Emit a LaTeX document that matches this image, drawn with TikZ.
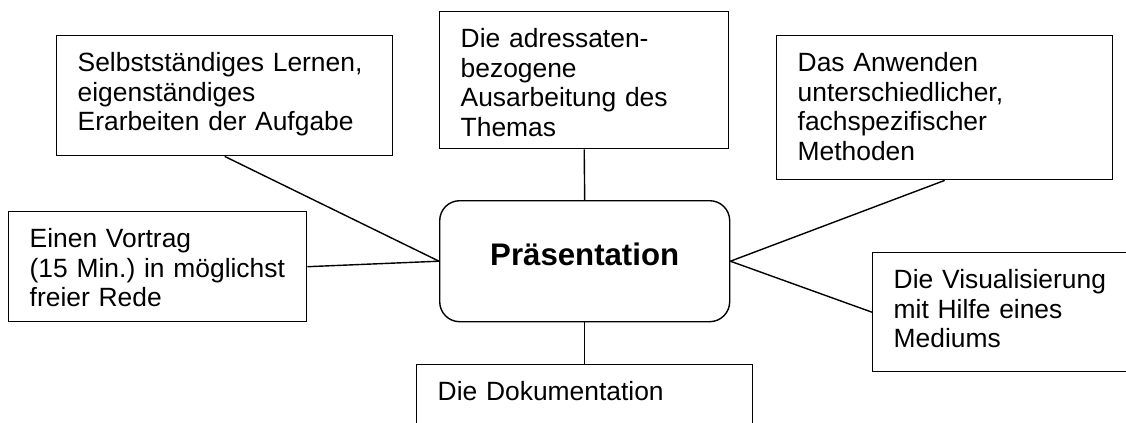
\documentclass[tikz,border=0pt]{standalone}
\usepackage{fontspec}
\setmainfont{Liberation Sans}
\frenchspacing

\tikzset{
  feld/.style={draw, rectangle, anchor=north west, align=left, inner xsep=10.5pt, inner ysep=0pt, text height=18pt, line width=0.7pt, font=\fontsize{13.2}{14.8}\selectfont},
  mitte/.style={draw, rectangle, rounded corners=10pt, anchor=north west, align=center, inner xsep=10.5pt, inner ysep=0pt, text width=124pt, text height=32.5pt, text depth=28pt, line width=0.7pt, font=\fontsize{15.6}{18}\selectfont\bfseries},
  linie/.style={line width=0.7pt}
}

\begin{document}
\begin{tikzpicture}[x=0.5pt, y=-0.5pt]
\useasboundingbox (0,0) rectangle (1126,423);

\node[mitte] (praes) at (439,200) {Präsentation\hspace*{4pt}};

\node[feld, text width=147pt, text depth=42pt] (selbst) at (56,35) {Selbstständiges Lernen,\\eigenständiges\\Erarbeiten der Aufgabe};
\node[feld, text width=123.5pt, text depth=50.5pt] (thema) at (439,11) {Die adressaten-\\bezogene\\Ausarbeitung des\\Themas};
\node[feld, text width=147pt, text depth=54pt] (methoden) at (776,35) {Das Anwenden\\unterschiedlicher,\\fachspezifischer\\Methoden};
\node[feld, text width=128pt, text depth=37pt] (vortrag) at (8,211) {Einen Vortrag\\\mbox{(15 Min.) in möglichst}\\freier Rede};
\node[feld, text width=119pt, text depth=41.5pt] (medium) at (872,252) {Die Visualisierung\\mit Hilfe eines\\Mediums};
\node[feld, text width=147pt, text depth=22pt] (doku) at (416,364) {Die Dokumentation};

\draw[linie] (selbst.south) -- (praes.west);
\draw[linie] (vortrag.east) -- (praes.west);
\draw[linie] (thema.south) -- (praes.north);
\draw[linie] (praes.south) -- (doku.north);
\draw[linie] (praes.east) -- (methoden.south);
\draw[linie] (praes.east) -- (medium.west);

\end{tikzpicture}
\end{document}
